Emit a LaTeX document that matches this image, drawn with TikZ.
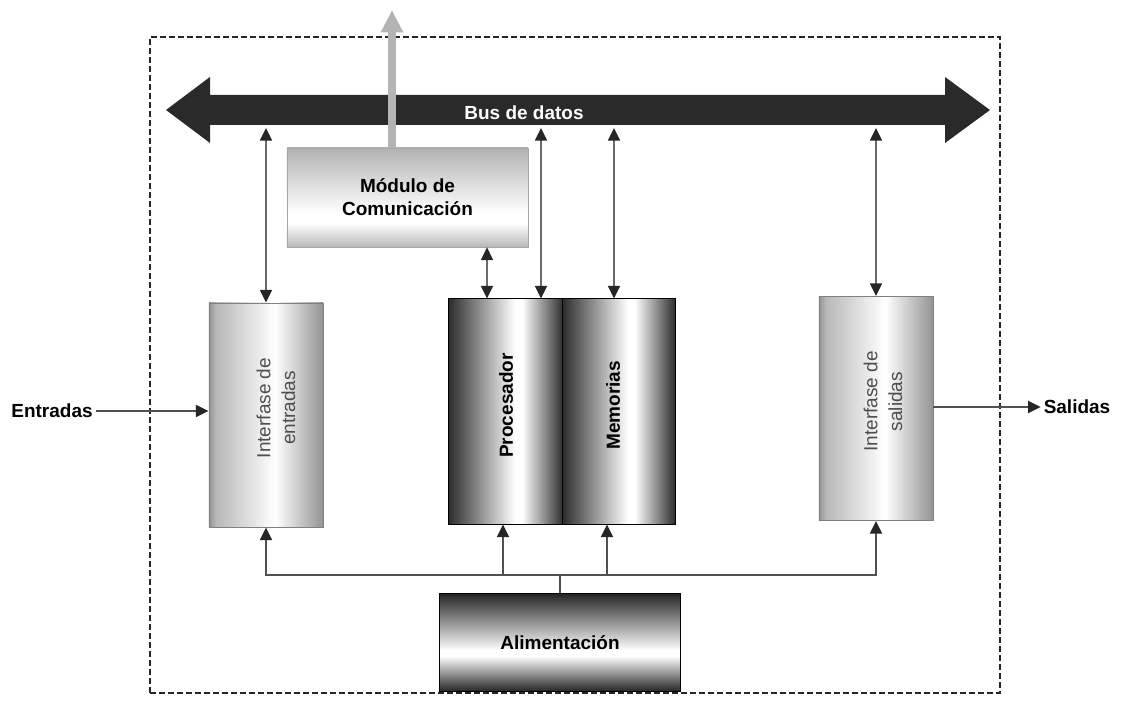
\documentclass[tikz,border=0pt]{standalone}
\usepackage{fontspec}
\setmainfont{Liberation Sans}
\usepackage{tikz}
\usetikzlibrary{arrows.meta,calc}

\definecolor{busgray}{HTML}{2A2A2A}
\definecolor{uplinkgray}{HTML}{B4B4B4}
\definecolor{linegray}{HTML}{505050}
\definecolor{buslinegray}{HTML}{6A6A6A}
\definecolor{tipgray}{HTML}{262626}
\definecolor{ifacetext}{HTML}{4E4E4E}

\pgfdeclarehorizontalshading{ifaceshade}{100bp}{color(0bp)=(black!42); color(25bp)=(black!42); color(28bp)=(black!28); color(54bp)=(white); color(75bp)=(black!42); color(100bp)=(black!42)}
\pgfdeclarehorizontalshading{cpushade}{100bp}{color(0bp)=(black!82); color(25bp)=(black!82); color(54bp)=(white); color(57bp)=(white); color(75bp)=(black!82); color(100bp)=(black!82)}
\pgfdeclareverticalshading{modshade}{100bp}{color(0bp)=(black!28); color(25bp)=(black!28); color(37bp)=(white); color(42bp)=(white); color(75bp)=(black!30); color(100bp)=(black!30)}
\pgfdeclareverticalshading{powshade}{100bp}{color(0bp)=(black!85); color(25bp)=(black!85); color(43bp)=(white); color(46bp)=(white); color(75bp)=(black!85); color(100bp)=(black!85)}

\begin{document}
\begin{tikzpicture}[
  x=0.025cm, y=0.025cm,
  >={Triangle[length=9pt,width=8.5pt,color=tipgray]},
  every node/.style={font=\fontsize{13.5}{16.5}\selectfont},
  boldtext/.style={font=\fontsize{13.5}{16.5}\selectfont\bfseries},
  frame/.style={draw=black!85, line width=0.9pt, dash pattern=on 4.2pt off 2.2pt},
  modbox/.style={draw=black!35, line width=0.5pt, shade, shading=modshade,
    minimum width=6.025cm, minimum height=2.475cm, inner sep=0pt, align=center, boldtext},
  iface/.style={draw=black!50, line width=0.6pt, shade, shading=ifaceshade,
    minimum width=2.85cm, minimum height=5.6cm, inner sep=0pt},
  cpu/.style={draw=black, line width=0.7pt, shade, shading=cpushade,
    minimum width=2.85cm, minimum height=5.625cm, inner sep=0pt},
  powbox/.style={draw=black, line width=0.7pt, shade, shading=powshade,
    minimum width=6cm, minimum height=2.425cm, inner sep=0pt, boldtext},
  vtext/.style={rotate=90, align=center, text=ifacetext,
    font=\fontsize{13.5}{17.5}\selectfont},
  vbold/.style={rotate=90, boldtext},
  buslbl/.style={text=white, boldtext},
  outer/.style={boldtext, inner sep=2pt},
  busarrow/.style={<->, buslinegray, line width=1.3pt},
  powarrow/.style={->, linegray, line width=1.5pt},
  uplink/.style={-{Triangle[length=16pt,width=15pt]}, uplinkgray, line width=5pt}
]
  \useasboundingbox (0,0) rectangle (1121,700);

  % Frame of the controller
  \draw[frame] (150,7) rectangle (1000,663);

  % Data bus
  \fill[busgray] (166,590) -- (210,623) -- (210,605) -- (945,605) -- (945,623)
    -- (990,590) -- (945,557) -- (945,575) -- (210,575) -- (210,557) -- cycle;
  \node[buslbl] (bus) at (524,587) {Bus de datos};
  \coordinate (busb) at (524,572);

  % Blocks
  \node[modbox] (modulo) at (407.5,502.5) {Módulo de\\Comunicación};
  \node[iface] (ientr) at (266,285) {};
  \node[vtext] (ientr-t) at ($(ientr)+(10,7)$) {Interfase de\\entradas};
  \node[cpu] (proc) at (506,288.5) {};
  \node[vbold] (proc-t) at ($(proc)+(0,6)$) {Procesador};
  \node[cpu, minimum width=2.8cm] (mem) at (619,288.5) {};
  \node[vbold] (mem-t) at ($(mem)+(-6,6)$) {Memorias};
  \node[iface] (isal) at (876,291.5) {};
  \node[vtext] (isal-t) at ($(isal)+(7,7)$) {Interfase de\\salidas};
  \node[powbox] (alim) at (560,57.5) {Alimentación};

  % Inputs and outputs
  \node[outer] (entradas) at (52,289) {Entradas};
  \node[outer] (salidas) at (1077,293) {Salidas};
  \draw[powarrow] (entradas.east) -- (entradas.east -| ientr.west);
  \draw[powarrow] (isal.east |- salidas.west) -- (salidas.west);

  % Bus connections
  \coordinate (proc-bus) at ($(proc.north)+(35,0)$);
  \coordinate (mem-bus) at ($(mem.north)+(-5,0)$);
  \coordinate (proc-mod) at ($(proc.north)+(-19,0)$);
  \draw[busarrow] (busb -| ientr.north) -- (ientr.north);
  \draw[busarrow] (busb -| proc-bus) -- (proc-bus);
  \draw[busarrow] (busb -| mem-bus) -- (mem-bus);
  \draw[busarrow] (busb -| isal.north) -- (isal.north);
  \draw[busarrow] (proc-mod |- modulo.south) -- (proc-mod);

  % Link leaving the module
  \coordinate (antenna) at (392,690);
  \draw[uplink] (antenna |- modulo.north) -- (antenna);

  % Power distribution
  \coordinate (pw) at (560,125);
  \coordinate (proc-pw) at ($(proc.south)+(-3,0)$);
  \coordinate (mem-pw) at ($(mem.south)+(-12,0)$);
  \draw[powarrow] (alim.north) -- (pw) -| (ientr.south);
  \draw[powarrow] (pw) -| (isal.south);
  \draw[powarrow] (pw -| proc-pw) -- (proc-pw);
  \draw[powarrow] (pw -| mem-pw) -- (mem-pw);
\end{tikzpicture}
\end{document}
